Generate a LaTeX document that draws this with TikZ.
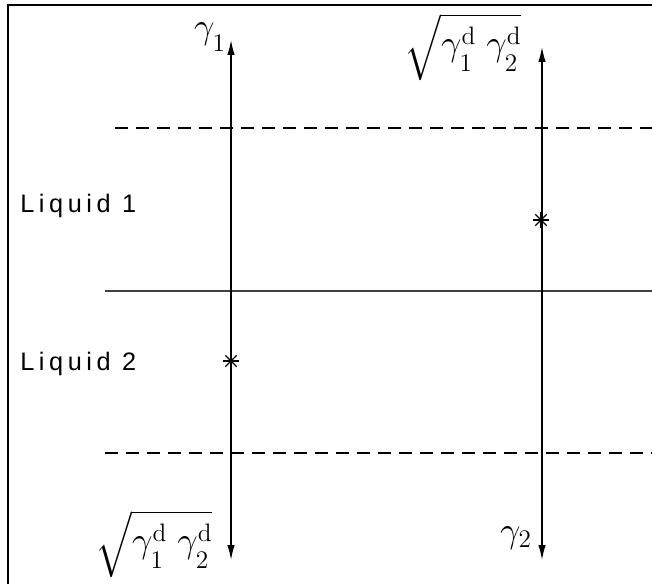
\documentclass[tikz,border=0pt]{standalone}
\usepackage{amsmath}
\usepackage{fontspec}
\newfontfamily\plotfont[LetterSpace=18]{Liberation Sans}
\usetikzlibrary{arrows.meta,positioning}
\newcommand{\gdsub}[1]{\lower0.2em\hbox{$\scriptstyle #1$}}

\begin{document}
\begin{tikzpicture}[
    x=0.02cm, y=-0.02cm,
    frame/.style={line width=1.3pt},
    interface/.style={line width=0.6pt, black!75},
    boundary/.style={line width=0.7pt, dash pattern=on 0.26cm off 0.16cm},
    axis/.style={{Latex[length=0.3cm,width=0.15cm]}-{Latex[length=0.3cm,width=0.15cm]}, line width=0.8pt},
    marker/.style={coordinate},
    gamlabel/.style={inner sep=0pt, font=\huge},
    phase/.style={anchor=base west, inner sep=0pt, font=\plotfont\Large}
]
\useasboundingbox (0,0) rectangle (652,584);

% Frame
\draw[frame] (652,5) -- (8,5) -- (8,584);

% Phase boundaries
\draw[boundary] (115,128) -- (652,128);
\draw[interface] (105,291) -- (652,291);
\draw[boundary] (105,453) -- (652,453);

% Axes
\coordinate (top1) at (231,40);
\coordinate (bot1) at (231,560);
\coordinate (top2) at (542,47);
\coordinate (bot2) at (542,560);
\draw[axis] (bot1) -- (top1);
\draw[axis] (bot2) -- (top2);

% Stars
\node[marker] (star1) at (231,361) {};
\node[marker] (star2) at (541,220) {};
\foreach \s in {star1,star2}
  \foreach \a in {0,45,90,135}
    \draw[line width=0.7pt] (\s) ++(\a:8) -- ++(\a+180:16);

% Labels
\node[gamlabel] (g1) at (210,37) {$\gamma_{\gdsub{1}}$};
\node[gamlabel] (g2) at (516,538) {$\gamma_{2}$};
\node[gamlabel] (gd1) at (463,47) {$\sqrt{\gamma^{\mathrm{d}}_{\gdsub{1}}\;\gamma^{\mathrm{d}}_{\gdsub{2}}}$};
\node[gamlabel] (gd2) at (154,544) {$\sqrt{\gamma^{\mathrm{d}}_{\gdsub{1}}\;\gamma^{\mathrm{d}}_{\gdsub{2}}}$};
\node[phase] (liq1) at (20,213) {Liquid 1};
\node[phase] (liq2) at (20,370) {Liquid 2};

\end{tikzpicture}
\end{document}
